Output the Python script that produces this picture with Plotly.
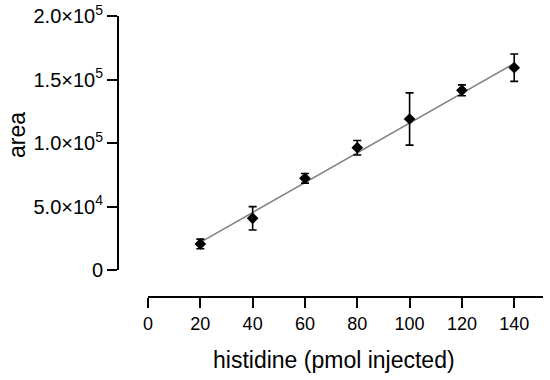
import plotly.graph_objects as go

# Data
pmol = [20, 40, 60, 80, 100, 120, 140]
area = [20500, 40700, 72200, 96300, 118900, 141500, 159300]
area_err = [3800, 9200, 3800, 5700, 20600, 4300, 10800]

fit_x = [20, 140]
fit_y = [21800, 162700]

x_ticks = [0, 20, 40, 60, 80, 100, 120, 140]
y_ticks = [0, 50000, 100000, 150000, 200000]
y_ticktext = ["0", "5.0×10<sup>4</sup>", "1.0×10<sup>5</sup>", "1.5×10<sup>5</sup>", "2.0×10<sup>5</sup>"]

W, H = 550, 380
FONT = "Liberation Sans, Arial, sans-serif"

fig = go.Figure()
fig.add_trace(go.Scatter(
    x=fit_x, y=fit_y, mode="lines",
    line=dict(color="#7f7f7f", width=1.5),
    showlegend=False, hoverinfo="skip",
))
fig.add_trace(go.Scatter(
    x=pmol, y=area, mode="markers",
    marker=dict(symbol="diamond", size=9, color="black"),
    error_y=dict(type="data", array=area_err, visible=True,
                 color="black", thickness=1.6, width=4),
    showlegend=False,
))

fig.update_layout(
    width=W, height=H,
    margin=dict(l=0, r=0, t=0, b=0),
    paper_bgcolor="white", plot_bgcolor="white",
    font=dict(family=FONT, color="black", size=18),
    xaxis=dict(
        domain=[148 / W, 543 / W], range=[0, 151],
        anchor="free", position=1 - 297 / H,
        showgrid=False, zeroline=False,
        showline=True, linecolor="black", linewidth=2,
        ticks="outside", ticklen=10, tickwidth=2, tickcolor="black",
        tickvals=x_ticks, ticktext=[str(v) for v in x_ticks],
        tickfont=dict(size=18), automargin=False,
    ),
    yaxis=dict(
        domain=[1 - 270 / H, 1 - 16 / H], range=[0, 200000],
        anchor="free", position=118 / W,
        showgrid=False, zeroline=False,
        showline=True, linecolor="black", linewidth=2,
        ticks="outside", ticklen=10, tickwidth=2, tickcolor="black",
        tickvals=y_ticks, ticktext=y_ticktext,
        tickfont=dict(size=20), automargin=False,
    ),
    annotations=[
        dict(text="area", x=17 / W, y=1 - 135 / H, xref="paper", yref="paper",
             textangle=-90, showarrow=False, font=dict(size=23),
             xanchor="center", yanchor="middle"),
        dict(text="histidine (pmol injected)", x=334 / W, y=1 - 360 / H,
             xref="paper", yref="paper", showarrow=False, font=dict(size=23),
             xanchor="center", yanchor="middle"),
    ],
)

fig.write_html(
    "out.html",
    config={"displayModeBar": False},
    post_script="document.body.style.margin='0';document.body.style.overflow='hidden';",
)
